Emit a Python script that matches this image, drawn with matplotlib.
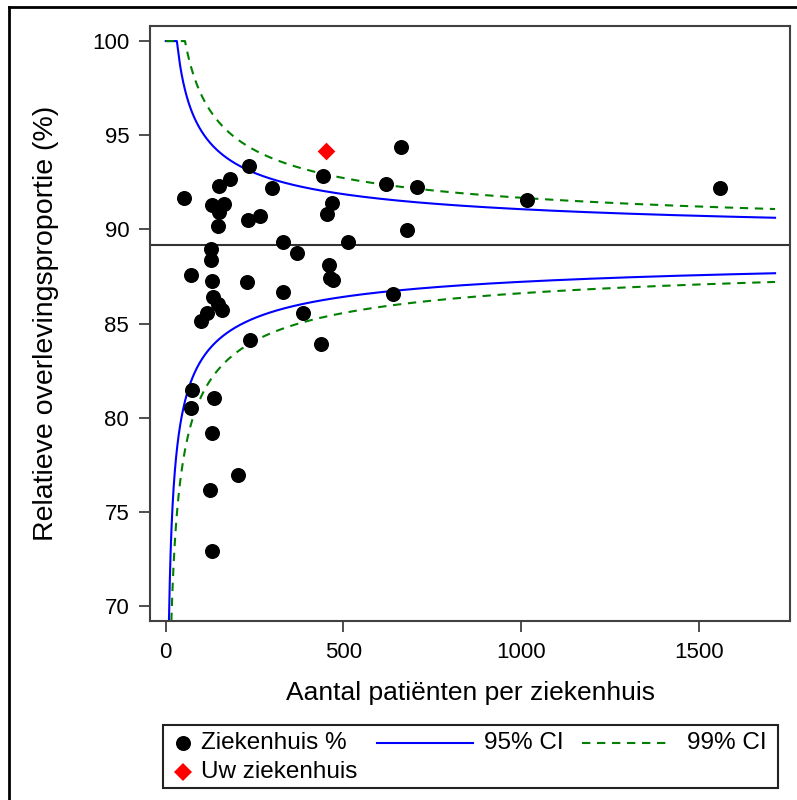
import numpy as np
import matplotlib
matplotlib.use('Agg')
import matplotlib.pyplot as plt
from matplotlib.lines import Line2D
from matplotlib.patches import Rectangle

# ---------------- data ----------------
n_patients = [52, 70, 73, 70, 98.5, 117, 127.5, 127.5, 129.5, 129.5, 132, 136,
              130, 124.7, 130, 146, 148, 150, 151, 157.6, 164, 181, 205, 228,
              231, 233.6, 237, 265, 300, 329, 331, 370, 387, 436, 442, 453,
              459.6, 463, 470, 467, 514, 619, 641, 662, 678, 707, 1016, 1560]
survival_pct = [91.67, 87.6, 81.5, 80.52, 85.16, 85.55, 88.97, 88.4, 87.25, 91.31,
                86.40, 81.08, 79.22, 76.17, 72.96, 90.21, 86.05, 90.92, 92.30, 85.73,
                91.35, 92.66, 76.97, 87.2, 90.48, 93.35, 84.15, 90.74, 92.2, 89.32,
                86.66, 88.74, 85.59, 83.92, 92.84, 90.83, 88.14, 87.45, 87.3, 91.40,
                89.32, 92.43, 86.58, 94.38, 89.98, 92.25, 91.54, 92.22]
your_n = [451]
your_pct = [94.15]

target_pct = 89.15      # overall proportion (horizontal line)
z95 = 1.96
z99 = 2.576
n_max = 1715

x_ticks = [0, 500, 1000, 1500]
y_ticks = [70, 75, 80, 85, 90, 95, 100]

x_label = "Aantal patiënten per ziekenhuis"
y_label = "Relatieve overlevingsproportie (%)"
legend_labels = ["Ziekenhuis %", "95% CI", "99% CI", "Uw ziekenhuis"]

# ---------------- figure ----------------
plt.rcParams['font.family'] = ['Liberation Sans', 'DejaVu Sans']

W, H = 797, 800
fig = plt.figure(figsize=(W / 100, H / 100), dpi=100)


def fx(px):
    return px / W


def fy(py):
    return 1 - py / H


ax = fig.add_axes([fx(150), fy(621), (790 - 150) / W, (621 - 26) / H])

# funnel limits (binomial normal approximation around the target)
n_grid = np.geomspace(0.5, n_max, 3000)
p = target_pct / 100
se = np.sqrt(p * (1 - p) / n_grid) * 100
up95 = np.minimum(100, target_pct + z95 * se)
lo95 = target_pct - z95 * se
up99 = np.minimum(100, target_pct + z99 * se)
lo99 = target_pct - z99 * se

blue = '#0000FF'
green = '#008000'
dash = (0, (4, 3.2))

ax.plot(n_grid, up95, color=blue, lw=1.5, zorder=2)
ax.plot(n_grid, lo95, color=blue, lw=1.5, zorder=2)
ax.plot(n_grid, up99, color=green, lw=1.5, ls=dash, zorder=2)
ax.plot(n_grid, lo99, color=green, lw=1.5, ls=dash, zorder=2)
ax.axhline(target_pct, color='#333333', lw=1.5, zorder=1)

ax.scatter(n_patients, survival_pct, s=117, c='black', linewidths=0, zorder=3)
ax.scatter(your_n, your_pct, marker='D', s=81, c='red', linewidths=0, zorder=4)

ax.set_xlim(-44, 1757)
ax.set_ylim(69.22, 100.8)
ax.set_xticks(x_ticks)
ax.set_yticks(y_ticks)
ax.tick_params(axis='both', length=8, width=1.3, color='#404040', labelsize=16, pad=7)
for s in ax.spines.values():
    s.set_color('#404040')
    s.set_linewidth(1.5)

ax.set_xlabel(x_label, fontsize=19, labelpad=13)
ax.set_ylabel(y_label, fontsize=20.5, labelpad=24)

# ---------------- legend (drawn in figure pixels) ----------------
fig.add_artist(Rectangle((fx(163), fy(788)), (778 - 163) / W, (788 - 725) / H,
                         transform=fig.transFigure, fill=False,
                         edgecolor='#222222', lw=1.5))
r1, r2 = 743, 772
lfs = 17.5
fig.add_artist(Line2D([fx(183)], [fy(r1)], marker='o', ms=10.8, color='black',
                      markeredgewidth=0, transform=fig.transFigure))
fig.text(fx(201), fy(r1), legend_labels[0], fontsize=lfs, va='center', ha='left')
fig.add_artist(Line2D([fx(377), fx(473)], [fy(r1), fy(r1)], color=blue, lw=1.5,
                      transform=fig.transFigure))
fig.text(fx(484), fy(r1), legend_labels[1], fontsize=lfs, va='center', ha='left')
fig.add_artist(Line2D([fx(582), fx(670)], [fy(r1), fy(r1)], color=green, lw=1.5,
                      ls=dash, transform=fig.transFigure))
fig.text(fx(687), fy(r1), legend_labels[2], fontsize=lfs, va='center', ha='left')
fig.add_artist(Line2D([fx(183)], [fy(r2)], marker='D', ms=9, color='red',
                      markeredgewidth=0, transform=fig.transFigure))
fig.text(fx(201), fy(r2), legend_labels[3], fontsize=lfs, va='center', ha='left')

# outer frame (top and left edges visible)
fig.add_artist(Line2D([fx(9), 1.0], [fy(7), fy(7)], color='black', lw=2,
                      transform=fig.transFigure))
fig.add_artist(Line2D([fx(9), fx(9)], [fy(7), 0.0], color='black', lw=2,
                      transform=fig.transFigure))

fig.savefig('out.png', dpi=100)
